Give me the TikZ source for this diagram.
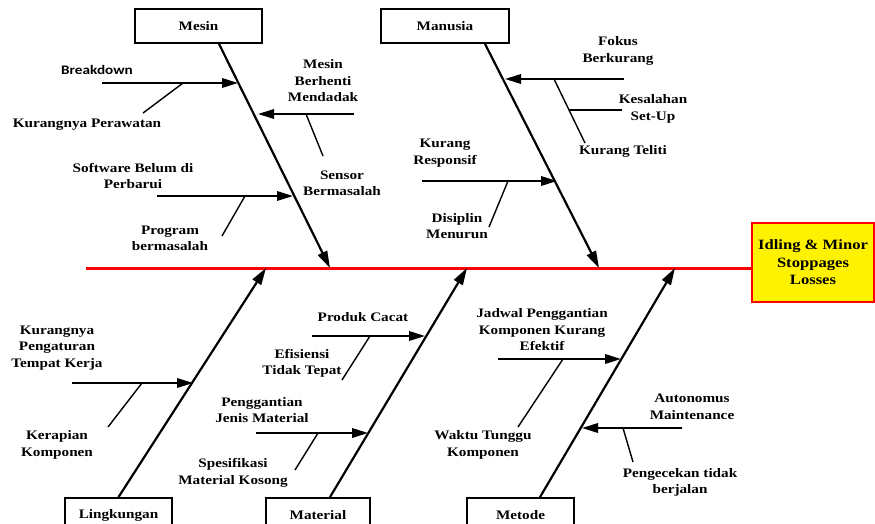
\documentclass[tikz,border=0pt]{standalone}
\usepackage{fontspec}
\setmainfont{Liberation Serif}[FakeStretch=1.17]
\newfontfamily\brkfont{Carlito}[FakeStretch=1.17]
\usetikzlibrary{arrows.meta}
\begin{document}
\begin{tikzpicture}[x=1pt,y=-1pt,
  lbl/.style={font=\fontsize{13}{16.5}\selectfont\bfseries, align=center, inner sep=0pt},
  catbox/.style={draw, line width=1.8pt, minimum height=34pt, inner sep=0pt, font=\fontsize{13}{15}\selectfont\bfseries},
  effectbox/.style={draw=red, fill=yellow, line width=2.2pt, minimum width=122pt, minimum height=79pt, inner sep=0pt, align=center, font=\fontsize{14.2}{17.5}\selectfont\bfseries},
  spine/.style={draw=red, line width=3pt},
  bone/.style={line width=2.2pt, -{Triangle[length=17pt,width=10pt]}},
  subarrow/.style={line width=2pt, -{Triangle[length=16pt,width=9.5pt]}},
  twig/.style={line width=1.4pt}]
\useasboundingbox (0,0) rectangle (875,524);

% category boxes
\node[catbox, minimum width=127pt] (mesin) at (198.5,26) {Mesin};
\node[catbox, minimum width=128pt] (manusia) at (445,26) {Manusia};
\node[catbox, minimum width=107pt] (ling) at (118.5,515) {Lingkungan};
\node[catbox, minimum width=104pt] (material) at (318,515) {Material};
\node[catbox, minimum width=107pt] (metode) at (520.5,515) {Metode};

% effect
\node[effectbox] (effect) at (813,262.5) {Idling \& Minor\\Stoppages\\Losses};

% spine
\coordinate (sp0) at (86,268);
\draw[spine] (sp0) -- (sp0 -| effect.west);

% bone tips
\coordinate (mesinT) at (330,268);
\coordinate (manusiaT) at (599,268);
\coordinate (lingT) at (266,268);
\coordinate (materialT) at (467,268);
\coordinate (metodeT) at (675,268);

\draw[bone] ([xshift=20.5]mesin.south) -- (mesinT);
\draw[bone] ([xshift=40]manusia.south) -- (manusiaT);
\draw[bone] (ling.north) -- (lingT);
\draw[bone] ([xshift=12]material.north) -- (materialT);
\draw[bone] ([xshift=19.5]metode.north) -- (metodeT);

% ---- Mesin ----
\node[lbl, font=\fontsize{13}{16.5}\selectfont\bfseries\brkfont] (bd) at (97,70) {Breakdown};
\node[lbl] (kpw) at (87,125) {Kurangnya Perawatan};
\node[lbl] (mbm) at (323,81) {Mesin\\Berhenti\\Mendadak};
\node[lbl] (sb) at (342,183.5) {Sensor\\Bermasalah};
\node[lbl] (sw) at (133,176) {Software Belum di\\Perbarui};
\node[lbl] (pb) at (170,238.5) {Program\\bermasalah};

\coordinate (bd0) at (102,83);   \coordinate (bdT) at (238,83);
\coordinate (bdm) at (183,83);   \coordinate (kpw1) at (143,113);
\draw[subarrow] (bd0) -- (bdT);
\draw[twig] (bdm) -- (kpw1);

\coordinate (mbm0) at (354,114); \coordinate (mbmT) at (258,114);
\coordinate (mbmm) at (306,114); \coordinate (sb1) at (323,156);
\draw[subarrow] (mbm0) -- (mbmT);
\draw[twig] (mbmm) -- (sb1);

\coordinate (sw0) at (157,196);  \coordinate (swT) at (293,196);
\coordinate (swm) at (245,196);  \coordinate (pb1) at (222,236);
\draw[subarrow] (sw0) -- (swT);
\draw[twig] (swm) -- (pb1);

% ---- Manusia ----
\node[lbl] (fk) at (618,51) {Fokus\\Berkurang};
\node[lbl] (ks) at (653,109) {Kesalahan\\Set-Up};
\node[lbl] (kt) at (623,151) {Kurang Teliti};
\node[lbl] (kr) at (445,153) {Kurang\\Responsif};
\node[lbl] (dm) at (457,226) {Disiplin\\Menurun};

\coordinate (fk0) at (624,79);   \coordinate (fkT) at (505,79);
\coordinate (fkm) at (554,79);   \coordinate (kt1) at (585,143);
\coordinate (ksm) at (569,110);  \coordinate (ks1) at (622,110);
\draw[subarrow] (fk0) -- (fkT);
\draw[twig] (fkm) -- (kt1);
\draw[twig] (ksm) -- (ks1);

\coordinate (kr0) at (422,181);  \coordinate (krT) at (557,181);
\coordinate (krm) at (508,181);  \coordinate (dm1) at (489,227);
\draw[subarrow] (kr0) -- (krT);
\draw[twig] (krm) -- (dm1);

% ---- Lingkungan ----
\node[lbl] (kpt) at (57,348) {Kurangnya\\Pengaturan\\Tempat Kerja};
\node[lbl] (kk) at (57,445) {Kerapian\\Komponen};

\coordinate (kpt0) at (72,383);  \coordinate (kptT) at (193,383);
\coordinate (kptm) at (142,383); \coordinate (kk1) at (108,427);
\draw[subarrow] (kpt0) -- (kptT);
\draw[twig] (kptm) -- (kk1);

% ---- Material ----
\node[lbl] (pc) at (363,317) {Produk Cacat};
\node[lbl] (et) at (302,363.5) {Efisiensi\\Tidak Tepat};
\node[lbl] (pj) at (262,410) {Penggantian\\Jenis Material};
\node[lbl] (sm) at (233,473) {Spesifikasi\\Material Kosong};

\coordinate (pc0) at (312,336);  \coordinate (pcT) at (425,336);
\coordinate (pcm) at (370,336);  \coordinate (et1) at (342,380);
\draw[subarrow] (pc0) -- (pcT);
\draw[twig] (pcm) -- (et1);

\coordinate (pj0) at (256,433);  \coordinate (pjT) at (368,433);
\coordinate (pjm) at (318,433);  \coordinate (sm1) at (295,470);
\draw[subarrow] (pj0) -- (pjT);
\draw[twig] (pjm) -- (sm1);

% ---- Metode ----
\node[lbl] (jp) at (542,330) {Jadwal Penggantian\\Komponen Kurang\\Efektif};
\node[lbl] (wt) at (483,445) {Waktu Tunggu\\Komponen};
\node[lbl] (am) at (692,407) {Autonomus\\Maintenance};
\node[lbl] (pt) at (680,482.5) {Pengecekan tidak\\berjalan};

\coordinate (jp0) at (498,359);  \coordinate (jpT) at (621,359);
\coordinate (jpm) at (563,359);  \coordinate (wt1) at (518,427);
\draw[subarrow] (jp0) -- (jpT);
\draw[twig] (jpm) -- (wt1);

\coordinate (am0) at (682,428);  \coordinate (amT) at (582,428);
\coordinate (amm) at (623,428);  \coordinate (pt1) at (633,462);
\draw[subarrow] (am0) -- (amT);
\draw[twig] (amm) -- (pt1);
\end{tikzpicture}
\end{document}
